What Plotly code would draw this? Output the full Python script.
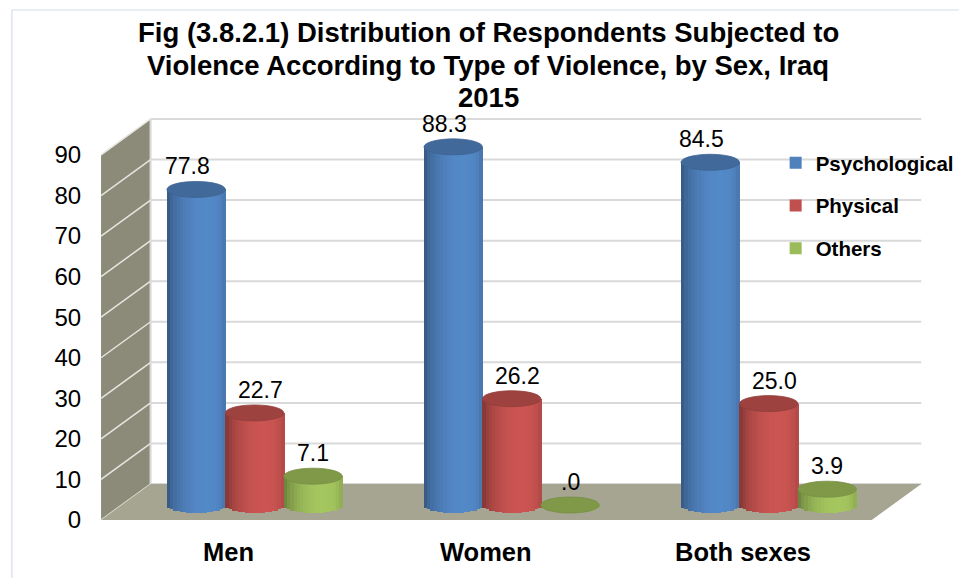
import math
import plotly.graph_objects as go

# ---- data ----
categories = ["Men", "Women", "Both sexes"]
psychological = [77.8, 88.3, 84.5]
physical = [22.7, 26.2, 25.0]
others = [7.1, 0.0, 3.9]
y_ticks = [0, 10, 20, 30, 40, 50, 60, 70, 80, 90]

title_lines = [
    "Fig (3.8.2.1) Distribution of Respondents Subjected to",
    "Violence According to Type of Violence, by Sex, Iraq",
    "2015",
]

series = [
    ("Psychological", psychological, "#4F81BD"),
    ("Physical", physical, "#C0504D"),
    ("Others", others, "#9BBB59"),
]

# ---- geometry (pixels) ----
W, H = 959, 578
PX = 4.056            # pixels per unit of value
BAR_ZERO = 505        # y pixel of value 0 on the bar plane
FRONT_ZERO = 520      # y pixel of value 0 on the front edge (tick labels)
BACK_ZERO = 484       # y pixel of value 0 on the back wall
GROUP0 = 257          # x pixel of the first category centre
STEP = 259.5          # x pixels between categories
BW = 59.0 / STEP      # bar width in category units
E = 8.0 / PX          # half-height of the cylinder ellipses, value units
WALL_FRONT_X, WALL_BACK_X, WALL_RIGHT_X, FLOOR_FRONT_RIGHT_X = 102, 152, 930, 880
FONT = "Liberation Sans, Arial, sans-serif"


def P(x, y):
    return x / W, 1 - y / H


def path(points):
    pts = [P(x, y) for x, y in points]
    return "M " + " L ".join(f"{a:.5f},{b:.5f}" for a, b in pts) + " Z"


def rgb(hex_color, k=1.0):
    h = hex_color.lstrip("#")
    c = [int(h[i:i + 2], 16) for i in (0, 2, 4)]
    return "rgb({},{},{})".format(*[max(0, min(255, round(v * k))) for v in c])


def brightness(u):
    theta = math.asin(max(-1.0, min(1.0, u)))
    return 0.72 + 0.34 * math.cos(theta - 0.35)


def fmt(v):
    s = f"{v:.1f}"
    return s[1:] if s.startswith("0") else s


fig = go.Figure()
shapes = []

# chart border
shapes.append(dict(type="rect", xref="paper", yref="paper",
                   x0=12 / W, x1=1.02, y0=-0.02, y1=1 - 10 / H,
                   line=dict(color="#D5DEE8", width=1.2), fillcolor="rgba(0,0,0,0)",
                   layer="below"))

# side wall
shapes.append(dict(type="path", xref="paper", yref="paper", layer="below",
                   path=path([(WALL_FRONT_X, FRONT_ZERO), (WALL_FRONT_X, FRONT_ZERO - 90 * PX),
                              (WALL_BACK_X, BACK_ZERO - 90 * PX), (WALL_BACK_X, BACK_ZERO)]),
                   fillcolor="#8C8B79", line=dict(width=0)))
# back wall edge
x0, y0 = P(WALL_BACK_X, BACK_ZERO - 90 * PX)
x1, y1 = P(WALL_BACK_X, BACK_ZERO)
shapes.append(dict(type="line", xref="paper", yref="paper", layer="below",
                   x0=x0, y0=y0, x1=x1, y1=y1, line=dict(color="#D9D9D9", width=2)))

# gridlines on back wall and side wall
for t in y_ticks:
    yb = BACK_ZERO - t * PX
    yf = FRONT_ZERO - t * PX
    a, b = P(WALL_BACK_X, yb)
    c, d = P(WALL_RIGHT_X, yb)
    shapes.append(dict(type="line", xref="paper", yref="paper", layer="below",
                       x0=a, y0=b, x1=c, y1=d, line=dict(color="#D9D9D9", width=2)))
    a2, b2 = P(WALL_FRONT_X, yf)
    shapes.append(dict(type="line", xref="paper", yref="paper", layer="below",
                       x0=a2, y0=b2, x1=a, y1=b, line=dict(color="#E6E6E0", width=1.5)))

# floor
shapes.append(dict(type="path", xref="paper", yref="paper", layer="below",
                   path=path([(WALL_FRONT_X, FRONT_ZERO), (WALL_BACK_X, BACK_ZERO),
                              (WALL_RIGHT_X, BACK_ZERO), (FLOOR_FRONT_RIGHT_X, FRONT_ZERO)]),
                   fillcolor="#A6A592", line=dict(width=0)))

# ---- cylinders ----
N = 18
label_dx = [-9, 6, 0]
annotations = []
for j, (name, vals, color) in enumerate(series):
    left = (j - 1) * BW - BW / 2
    # body, also serves as the legend entry
    fig.add_trace(go.Bar(x=categories, y=vals, base=0, width=BW, offset=left,
                         name=name, legendgroup=name, marker=dict(color=color, line=dict(width=0)),
                         hoverinfo="skip"))
    for k in range(N):
        u = -1 + (2 * k + 1) / N
        d = E * math.sqrt(max(0.0, 1 - u * u))
        fig.add_trace(go.Bar(
            x=categories, y=[v + d for v in vals], base=-d,
            width=BW / N * 1.25, offset=left + k * BW / N,
            marker=dict(color=rgb(color, brightness(u)), line=dict(width=0)),
            showlegend=False, legendgroup=name, hoverinfo="skip"))
    for i, v in enumerate(vals):
        xc = i + (j - 1) * BW
        shapes.append(dict(type="circle", xref="x", yref="y", layer="above",
                           x0=xc - BW / 2, x1=xc + BW / 2, y0=v - E, y1=v + E,
                           fillcolor=rgb(color, 0.82), line=dict(color=rgb(color, 0.76), width=0.8)))
        annotations.append(dict(xref="x", yref="y", x=xc, y=v, yshift=23, xshift=label_dx[j],
                                text=fmt(v), showarrow=False,
                                font=dict(family=FONT, size=23, color="#000000")))

# category labels
for i, c in enumerate(categories):
    annotations.append(dict(xref="x", yref="paper", x=i, xshift=-26, y=1 - 552 / H,
                            yanchor="middle", text=f"<b>{c}</b>", showarrow=False,
                            font=dict(family=FONT, size=25.5, color="#000000")))

# title, one annotation per line for tight line spacing
for n, line in enumerate(title_lines):
    annotations.append(dict(xref="paper", yref="paper", x=493 / W, y=1 - (33 + 32 * n) / H,
                            xanchor="center", yanchor="middle", text=f"<b>{line}</b>",
                            showarrow=False,
                            font=dict(family=FONT, size=27.5, color="#000000")))

fig.update_layout(
    width=W, height=H, autosize=False,
    margin=dict(l=0, r=0, t=0, b=0),
    paper_bgcolor="white", plot_bgcolor="white",
    barmode="overlay", bargap=0,
    showlegend=True,
    legend=dict(x=783 / W, y=1 - 143 / H, xanchor="left", yanchor="top",
                traceorder="grouped", tracegroupgap=13,
                font=dict(family=FONT, size=20.5, color="#000000", weight="bold"),
                bgcolor="rgba(0,0,0,0)"),
    xaxis=dict(type="category", range=[-GROUP0 / STEP, (W - GROUP0) / STEP],
               showgrid=False, zeroline=False, showticklabels=False, showline=False,
               fixedrange=True),
    yaxis=dict(range=[(BAR_ZERO - H) / PX, BAR_ZERO / PX],
               showgrid=False, zeroline=False, showticklabels=False, showline=False,
               fixedrange=True),
    yaxis2=dict(overlaying="y", anchor="free", position=82 / W, side="left",
                range=[(FRONT_ZERO - H) / PX, FRONT_ZERO / PX],
                tickvals=y_ticks, ticktext=[str(t) for t in y_ticks],
                showgrid=False, zeroline=False, showline=False, ticks="",
                tickfont=dict(family=FONT, size=24, color="#000000"), fixedrange=True),
    shapes=shapes,
    annotations=annotations,
)

# an invisible trace on yaxis2 so the tick axis is drawn
fig.add_trace(go.Scatter(x=[categories[0]], y=[None], yaxis="y2", showlegend=False,
                         hoverinfo="skip", mode="markers"))

fig.write_html("out.html")
